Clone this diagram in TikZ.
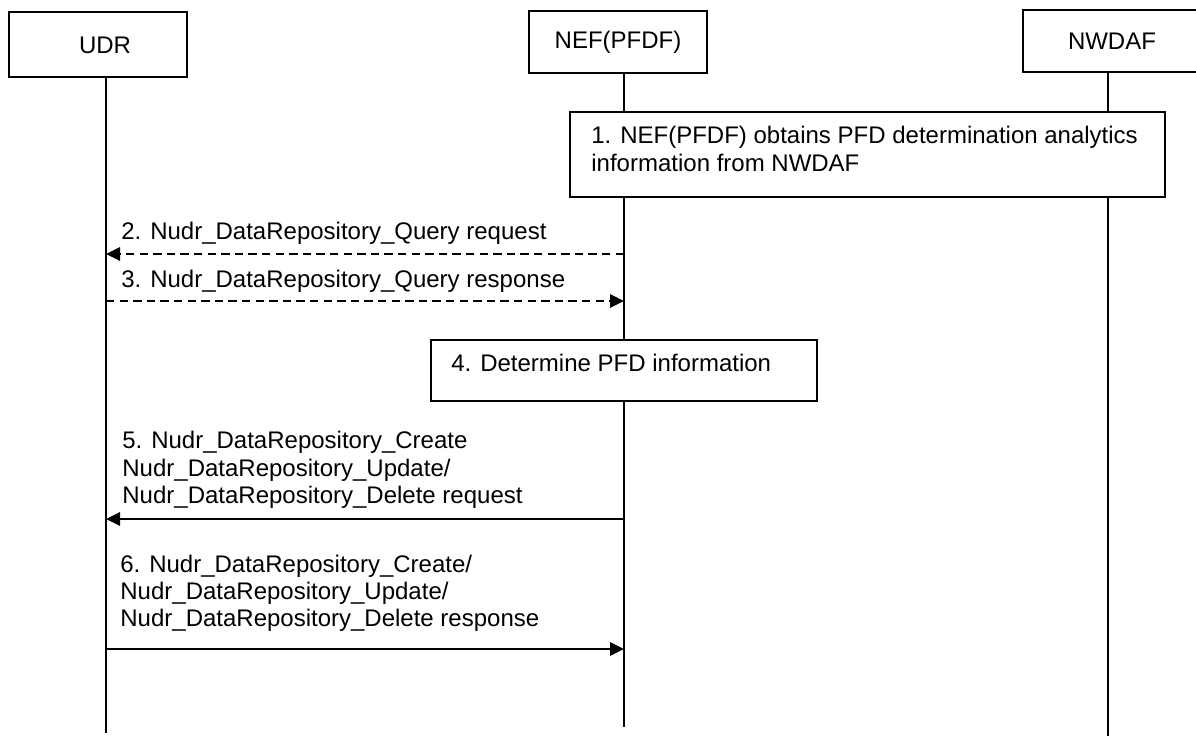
\documentclass[tikz,border=0pt]{standalone}
\usepackage{fontspec}
\setmainfont{Liberation Sans}
\usetikzlibrary{arrows.meta}
\begin{document}
\begin{tikzpicture}[x=0.5pt,y=-0.5pt,
  font=\fontsize{12}{14}\selectfont,
  hdr/.style={draw,line width=1.1pt,fill=white,inner sep=0pt},
  stepbox/.style={draw,line width=1.1pt,fill=white,inner sep=0pt},
  txt/.style={inner sep=0pt,anchor=west,align=left},
  life/.style={line width=1.1pt},
  msg/.style={line width=1.4pt,-{Triangle[length=7pt,width=6.5pt]}},
  dmsg/.style={msg,dash pattern=on 4.2pt off 2.6pt}]
\useasboundingbox (0,0) rectangle (1196,735);
\clip (0,0) rectangle (1196,735);
% lifeline coordinates
\coordinate (udrtop) at (106,77);
\coordinate (udrend) at (106,733);
\coordinate (neftop) at (624,72);
\coordinate (nefend) at (624,727);
\coordinate (nwtop) at (1108,71);
\coordinate (nwend) at (1108,736);
\draw[life] (udrtop) -- (udrend);
\draw[life] (neftop) -- (nefend);
\draw[life] (nwtop) -- (nwend);
% headers
\node[hdr,minimum width=89pt,minimum height=32.5pt] (udr) at (98,44.5) {};
\node[inner sep=0pt] (udrt) at (105,45) {UDR};
\node[hdr,minimum width=89pt,minimum height=31pt] (nef) at (618,42) {NEF(PFDF)};
\node[hdr,minimum width=89pt,minimum height=30.7pt] (nwdaf) at (1112,41) {NWDAF};
% step 1
\node[stepbox,minimum width=297.5pt,minimum height=42.5pt] (s1) at (867.5,154.5) {};
\node[txt] (s1t) at (591,149) {1. NEF(PFDF) obtains PFD determination analytics\\information from NWDAF};
% messages 2,3
\coordinate (n2) at (624,254);
\coordinate (u2) at (106,254);
\draw[dmsg] (n2) -- (u2);
\node[txt] (m2) at (121,233) {2. Nudr\_DataRepository\_Query request};
\coordinate (u3) at (106,301);
\coordinate (n3) at (624,301);
\draw[dmsg] (u3) -- (n3);
\node[txt] (m3) at (121,281) {3. Nudr\_DataRepository\_Query response};
% step 4
\node[stepbox,minimum width=193pt,minimum height=30.5pt] (s4) at (624,370.5) {};
\node[txt] (s4t) at (451,363) {4. Determine PFD information};
% message 5
\coordinate (n5) at (624,519);
\coordinate (u5) at (106,519);
\draw[msg] (n5) -- (u5);
\node[txt,font=\fontsize{12}{13.65}\selectfont] (m5) at (122,470) {5. Nudr\_DataRepository\_Create\\Nudr\_DataRepository\_Update/\\Nudr\_DataRepository\_Delete request};
% message 6
\coordinate (u6) at (106,649);
\coordinate (n6) at (624,649);
\draw[msg] (u6) -- (n6);
\node[txt,font=\fontsize{12}{13.5}\selectfont] (m6) at (120,593) {6. Nudr\_DataRepository\_Create/\\Nudr\_DataRepository\_Update/\\Nudr\_DataRepository\_Delete response};
\end{tikzpicture}
\end{document}
